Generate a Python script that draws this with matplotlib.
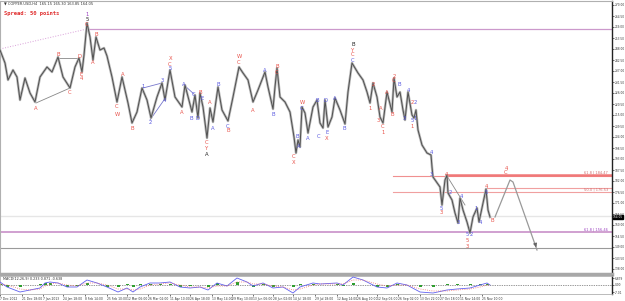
import matplotlib
matplotlib.use("Agg")
import matplotlib.pyplot as plt

# price path (bar position, price)
bar_x = [0, 5, 8, 13, 17, 20, 25, 30, 35, 40, 47, 52, 58, 63, 70, 75, 79, 82, 84, 87,
         90, 93, 96, 100, 104, 107, 112, 117, 122, 128, 132, 137, 142, 147, 151, 157, 162, 165, 170, 175,
         182, 185, 192, 195, 198, 200, 203, 207, 210, 213, 218, 222, 228, 233, 237, 239, 243, 248, 253, 258,
         265, 268, 273, 275, 277, 280, 285, 290, 294, 296, 298, 300, 302, 305, 308, 313, 317, 320, 323, 325,
         328, 332, 335, 340, 345, 348, 352, 355, 358, 363, 367, 370, 373, 377, 380, 383, 387, 392, 394, 397,
         400, 403, 405, 408, 412, 414, 416, 418, 422, 427, 431, 432, 433, 440, 442, 445, 447, 448, 452, 455,
         458, 460, 463, 467, 470, 473, 477, 479, 483, 486, 488, 490]
price = [247.5, 241.0, 232.5, 237.5, 234.0, 222.5, 233.5, 226.0, 221.5, 234.0, 239.0, 236.5, 244.0, 234.0, 228.5, 239.0, 243.5, 236.5, 245.0, 261.0,
         254.0, 242.5, 254.0, 247.5, 248.5, 244.5, 234.0, 221.5, 234.0, 221.0, 211.0, 216.5, 228.5, 222.5, 213.5, 224.0, 231.0, 222.5, 237.5, 224.0,
         219.0, 230.0, 216.5, 225.0, 213.5, 226.0, 219.0, 203.5, 218.5, 211.5, 229.0, 217.5, 212.0, 224.0, 234.0, 239.0, 236.0, 232.5, 221.5, 227.5,
         236.5, 229.0, 218.0, 229.0, 238.5, 224.0, 221.5, 216.5, 204.0, 196.0, 202.5, 199.0, 219.0, 216.0, 206.0, 219.0, 222.5, 211.0, 208.5, 222.5,
         209.0, 214.0, 223.5, 217.5, 210.5, 226.5, 241.0, 238.5, 236.0, 232.5, 226.5, 221.0, 231.0, 224.0, 214.0, 211.0, 226.5, 216.5, 233.5, 224.0,
         226.5, 217.5, 212.5, 226.5, 215.0, 213.5, 217.5, 207.5, 200.0, 196.0, 195.0, 189.0, 184.0, 179.0, 170.0, 182.5, 185.0, 176.0, 172.5, 166.0,
         161.0, 173.5, 167.5, 161.5, 156.0, 164.0, 168.5, 161.5, 171.0, 178.0, 167.5, 164.0]

# wave labels: (x, price, text, colour key)
wave_labels = [
    (36, 218.5, "A", "r"), (58, 245.0, "B", "r"), (70, 226.0, "C", "r"), (79, 244.0, "D", "r"),
    (81, 235.5, "E", "r"), (81, 233.0, "4", "r"), (87, 265.5, "1", "p"), (87, 262.8, "5", "k"),
    (87, 260.5, "C", "r"), (93, 241.5, "A", "r"), (96, 255.0, "B", "r"), (117, 219.0, "C", "r"),
    (117, 215.0, "W", "r"), (123, 235.0, "A", "r"), (132, 208.5, "B", "r"), (143, 229.5, "1", "b"),
    (150, 211.0, "2", "b"), (162, 232.5, "3", "b"), (164, 222.5, "4", "b"), (170, 238.0, "5", "b"),
    (170, 240.5, "C", "r"), (171, 243.0, "X", "r"), (182, 216.0, "A", "r"), (184, 230.5, "A", "b"),
    (191, 213.0, "B", "b"), (194, 225.0, "C", "b"), (197, 213.5, "D", "b"), (200, 226.0, "B", "r"),
    (202, 223.5, "E", "b"), (207, 201.0, "C", "r"), (207, 198.5, "Y", "r"), (207, 195.0, "A", "k"),
    (210, 221.0, "A", "r"), (213, 208.0, "A", "b"), (218, 230.0, "B", "b"), (228, 209.5, "C", "b"),
    (228, 207.0, "B", "r"), (239, 244.0, "W", "r"), (239, 241.5, "C", "r"), (253, 217.0, "A", "r"),
    (265, 237.0, "A", "b"), (273, 215.0, "B", "b"), (277, 239.0, "B", "r"), (277, 236.0, "C", "r"),
    (294, 194.0, "C", "r"), (294, 191.0, "X", "r"), (297, 204.0, "B", "b"), (299, 199.0, "A", "b"),
    (302, 221.0, "W", "r"), (302, 218.5, "C", "b"), (308, 203.5, "A", "b"), (317, 222.5, "B", "b"),
    (319, 204.0, "C", "b"), (325, 222.5, "D", "b"), (327, 206.0, "E", "b"), (327, 203.5, "X", "r"),
    (335, 223.5, "A", "b"), (344, 208.0, "B", "b"), (353, 250.0, "B", "k"), (353, 247.5, "Y", "r"),
    (353, 245.0, "C", "r"), (353, 242.5, "C", "b"), (370, 218.5, "1", "r"), (373, 230.5, "2", "r"),
    (378, 212.5, "3", "r"), (381, 218.5, "A", "r"), (383, 209.0, "C", "r"), (383, 206.5, "1", "r"),
    (387, 226.5, "A", "r"), (392, 215.5, "B", "r"), (394, 234.5, "2", "r"), (394, 232.0, "C", "r"),
    (399, 230.0, "B", "b"), (404, 213.0, "3", "b"), (408, 227.0, "4", "b"), (412, 221.5, "2", "r"),
    (415, 221.5, "2", "b"), (412, 212.5, "5", "b"), (415, 213.5, "1", "b"), (412, 209.0, "1", "r"),
    (431, 196.0, "4", "b"), (431, 185.5, "3", "b"), (446, 185.5, "4", "r"), (441, 168.5, "5", "b"),
    (441, 166.0, "3", "r"), (450, 176.0, "2", "b"), (458, 161.0, "3", "b"), (461, 174.0, "4", "b"),
    (467, 155.0, "5", "b"), (467, 152.5, "5", "r"), (467, 149.5, "3", "r"), (471, 155.0, "2", "b"),
    (476, 168.5, "1", "b"), (480, 161.0, "4", "b"), (486, 179.0, "4", "r"), (486, 176.5, "5", "b"),
    (492, 162.0, "B", "r"), (506, 188.5, "4", "r"), (506, 186.0, "C", "r"),
]
label_colours = {"r": "#e8524a", "b": "#5a5ae0", "p": "#9b3fc0", "k": "#222222"}

# projected path
proj_x = [495, 510, 513, 537]
proj_p = [164.0, 182.5, 181.5, 147.5]

# fibonacci / level lines
lvl_618_hi = 184.5
lvl_50_a = 178.5
lvl_50_b = 176.5
lvl_bid = 164.5
lvl_618_lo = 156.5
lvl_gray = 148.5
lvl_top = 258.0

# oscillator (MACD)
osc_x = [0, 7, 20, 30, 40, 45, 50, 58, 67, 77, 87, 97, 107, 118, 127, 133, 140, 150, 160, 170,
         180, 190, 200, 208, 217, 227, 237, 247, 253, 263, 273, 283, 293, 300, 313, 320, 337, 343, 353, 363,
         377, 387, 397, 407, 420, 433, 447, 457, 470, 480, 487, 490]
macd = [3, -2, -7, -5, -3, 2, 3, 2, -2, -2, 5, 2, -2, -7, -3, -7, -2, 2, 2, 3,
        -2, -3, -2, -5, 2, -1, 7, 3, -1, 2, -3, -2, -8, -2, 2, 1, 2, 0, 8, 5,
        -2, -3, 2, 0, -7, -8, -5, -4, -3, 0, 2, 0]
signal = [1, 0, -4, -5, -4, -1, 1, 2, 0, -1, 2, 2, 0, -4, -4, -5, -4, 0, 1, 2,
          0, -2, -2, -3, -1, -1, 3, 3, 1, 1, -1, -2, -5, -4, 0, 1, 1, 1, 5, 5,
          1, -1, 0, 0, -4, -6, -6, -5, -4, -2, 0, 0]
hist = [1.5, -1.5, -2, 0, 1, 2.5, 2, 0, -1.5, -1, 2.5, 0, -1.5, -2, 1, -1.5, 1.5, 1.5, 1, 1,
        -1.5, -1, 0, -1.5, 2.5, 0, 3, 0, -1.5, 1, -1.5, 0, -2, 1.5, 1.5, 0, 1, -1, 2.5, 0,
        -2, -1.5, 1.5, 0, -2, -1.5, 1, 1, 1, 1.5, 1.5, 0]

date_labels = ["7 Dec 2012", "21 Dec 18:00", "7 Jan 2013", "24 Jan 18:00", "8 Feb 14:00",
               "25 Feb 10:00", "12 Mar 06:00", "26 Mar 02:00", "11 Apr 10:00", "26 Apr 18:00",
               "13 May 14:00", "29 May 10:00", "13 Jun 06:00", "28 Jun 02:00", "14 Jul 18:00",
               "29 Jul 18:00", "12 Aug 14:00", "26 Aug 10:00", "12 Sep 06:00", "26 Sep 02:00",
               "13 Oct 22:00", "27 Oct 18:00", "11 Nov 14:00", "25 Nov 10:00"]
date_pos = [0, 22, 43, 63, 85, 107, 127, 148, 170, 190, 212, 232, 253, 273, 293, 315,
            337, 357, 377, 398, 420, 440, 460, 482]

W, H = 625, 301
fig = plt.figure(figsize=(W / 100, H / 100), dpi=100)
ax = fig.add_axes([0, (H - 274) / H, 612 / W, 273 / H])
osc = fig.add_axes([0, (H - 294) / H, 612 / W, 18 / H])

ax.set_xlim(0, 612)
ax.set_ylim(135.5, 272.0)

# levels
ax.axhline(lvl_bid, color="#e6e6e6", lw=1.0, zorder=1)
ax.axhline(lvl_618_lo, color="#c890c8", lw=1.2, zorder=1)
ax.axhline(lvl_gray, color="#9a9a9a", lw=0.8, zorder=1)
ax.plot([87, 612], [lvl_top, lvl_top], color="#cc99cc", lw=0.9, zorder=1)
ax.plot([0, 87], [248.0, lvl_top], color="#d9a0d9", lw=0.7, ls=":", zorder=1)
ax.plot([393, 612], [lvl_618_hi, lvl_618_hi], color="#f09090", lw=0.8, zorder=1)
ax.plot([446, 612], [lvl_618_hi + 0.3, lvl_618_hi + 0.3], color="#f07878", lw=1.8, zorder=1)
ax.plot([393, 612], [lvl_50_b, lvl_50_b], color="#f0a0a0", lw=0.8, zorder=1)
ax.plot([486, 612], [lvl_50_a, lvl_50_a], color="#f0a0a0", lw=0.8, zorder=1)
ax.text(608, lvl_618_hi + 0.6, "61.8 | 184.47", fontsize=2.6, color="#d07070", ha="right", va="bottom")
ax.text(608, lvl_50_b + 0.4, "50.0 | 176.53", fontsize=2.6, color="#d07070", ha="right", va="bottom")
ax.text(608, lvl_618_lo + 0.4, "61.8 | 156.46", fontsize=2.6, color="#9b3fc0", ha="right", va="bottom")

# helper lines between waves
ax.plot([36, 70], [221.0, 228.5], color="#888888", lw=0.6)
ax.plot([58, 79], [243.5, 243.5], color="#888888", lw=0.6)
ax.plot([143, 162], [228.5, 231.0], color="#7777cc", lw=0.6)
ax.plot([150, 164], [212.5, 222.5], color="#7777cc", lw=0.6)
ax.plot([184, 195], [230.0, 225.0], color="#7777cc", lw=0.6)
ax.plot([447, 465], [184.5, 170.0], color="#888888", lw=0.6)

# price bars
ax.plot(bar_x, price, color="#b8b8b8", lw=1.8, zorder=2)
ax.plot(bar_x, price, color="#505050", lw=0.7, zorder=3)

# projection
ax.plot(proj_x, proj_p, color="#999999", lw=0.9, zorder=3)
ax.annotate("", xy=(proj_x[-1], proj_p[-1]), xytext=(535, 151.0),
            arrowprops=dict(arrowstyle="-|>", color="#666666", lw=0.8, mutation_scale=5))

for x, p, t, c in wave_labels:
    ax.text(x, p, t, fontsize=3.8, color=label_colours[c], ha="center", va="center", zorder=4)

# axis styling
ax.yaxis.tick_right()
ticks = [270.0 - 5.5 * i for i in range(25)]
ax.set_yticks(ticks)
ax.set_yticklabels([f"{t:.2f}" for t in ticks])
ax.tick_params(axis="y", labelsize=2.1, length=1.2, width=0.5, pad=0.5, colors="#333333")
ax.set_xticks([])
for s in ["top", "left"]:
    ax.spines[s].set_color("#b0b0b0")
    ax.spines[s].set_linewidth(0.8)
ax.spines["right"].set_color("#222222")
ax.spines["right"].set_linewidth(1.0)
ax.spines["bottom"].set_color("#a8a8a8")
ax.spines["bottom"].set_linewidth(2.5)

# current price box
ax.text(613, 164.0, "164.05", fontsize=2.1, color="white",
        ha="left", va="center", clip_on=False,
        bbox=dict(boxstyle="square,pad=0.1", fc="black", ec="black"))

fig.text(0.006, 0.995, "\u25bc COPPER.USD,H4  165.15 165.30 163.85 164.05", fontsize=2.6,
         color="#333333", va="top")
fig.text(0.006, 0.962, "Spread: 50 points", fontsize=4.0, color="#e03030",
         fontweight="bold", family="DejaVu Sans Mono", va="top")

# oscillator
osc.set_xlim(0, 612)
osc.set_ylim(-9, 9)
osc.bar(osc_x, hist, width=3, color="#2e9e2e", zorder=2)
osc.plot(osc_x, macd, color="#6060f0", lw=0.6, zorder=3)
osc.plot(osc_x, signal, color="#f07070", lw=0.6, ls=":", zorder=3)
osc.axhline(0, color="#333333", lw=0.5, ls=(0, (1, 1.5)), zorder=1)
osc.text(3, 8.2, "MACD(12,26,9) 0.233 0.871 -0.638", fontsize=2.4, color="#333333", va="top")
osc.yaxis.tick_right()
osc.set_yticks([6.879, 0.0, -7.01])
osc.set_yticklabels(["6.879", "0.00", "-7.01"])
osc.tick_params(axis="y", labelsize=2.1, length=1.2, width=0.5, pad=0.5, colors="#333333")
osc.set_xticks(date_pos)
osc.set_xticklabels(date_labels, ha="left")
osc.tick_params(axis="x", labelsize=2.2, length=1.5, width=0.5, pad=0.5, colors="#333333")
for s in ["top", "left", "bottom"]:
    osc.spines[s].set_color("#b0b0b0")
    osc.spines[s].set_linewidth(0.6)
osc.spines["right"].set_color("#222222")
osc.spines["right"].set_linewidth(1.0)

fig.savefig("out.png", dpi=100, facecolor="white")
